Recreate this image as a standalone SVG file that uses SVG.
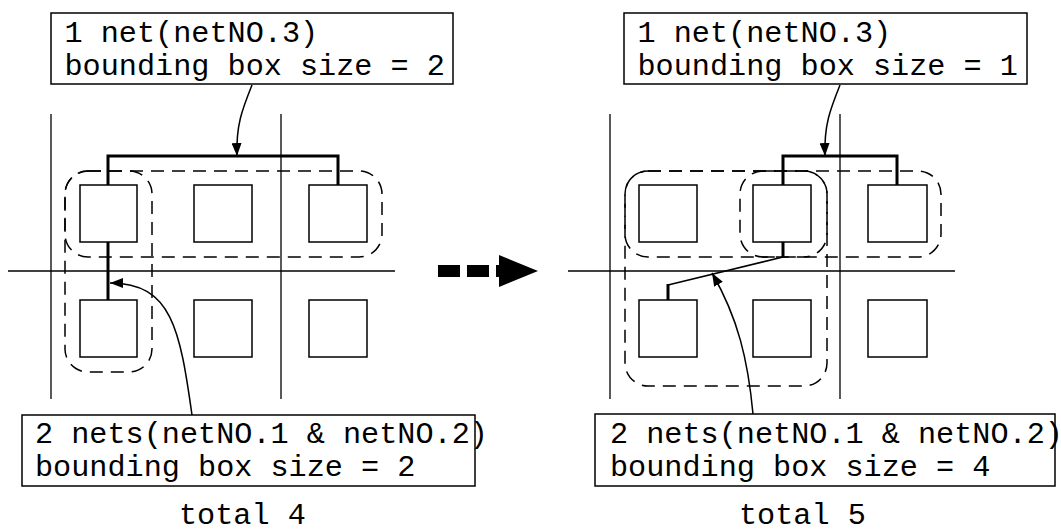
<svg xmlns="http://www.w3.org/2000/svg" width="1061" height="532" viewBox="0 0 1061 532">
  <style>
    .lbl { font-family: "Liberation Mono", "Courier New", monospace; font-size: 30.2px; fill: #000; }
    .box { fill: #fff; stroke: #000; stroke-width: 1.5; }
    .cell { fill: #fff; stroke: #000; stroke-width: 1.5; }
    .grid { stroke: #000; stroke-width: 1.3; fill: none; }
    .bbox { fill: none; stroke: #000; stroke-width: 1.5; stroke-dasharray: 13 8; }
    .wire { fill: none; stroke: #000; stroke-width: 3; }
    .thin { fill: none; stroke: #000; stroke-width: 1.5; }
    .ptr { fill: none; stroke: #000; stroke-width: 1.5; marker-end: url(#head); }
  </style>
  <defs>
    <marker id="head" viewBox="0 0 13 10" refX="13" refY="5" markerWidth="13" markerHeight="10" markerUnits="userSpaceOnUse" orient="auto">
      <path d="M0,0 L13,5 L0,10 z" fill="#000"/>
    </marker>
  </defs>
  <rect width="1061" height="532" fill="#fff"/>

  <!-- placement before: grid, cells, bounding boxes, wiring -->
  <g id="before">
    <g id="before-grid">
      <line class="grid" x1="51" y1="114" x2="51" y2="399"/>
      <line class="grid" x1="281" y1="114" x2="281" y2="399"/>
      <line class="grid" x1="8" y1="271" x2="395" y2="271"/>
    </g>
    <g id="before-cells">
      <rect class="cell" x="80" y="185" width="57" height="57"/>
      <rect class="cell" x="194" y="185" width="58" height="57"/>
      <rect class="cell" x="309" y="185" width="58" height="57"/>
      <rect class="cell" x="80" y="300" width="57" height="57"/>
      <rect class="cell" x="194" y="300" width="58" height="57"/>
      <rect class="cell" x="309" y="300" width="58" height="57"/>
    </g>
    <g id="before-bboxes">
      <rect class="bbox" x="65" y="171" width="317" height="86" rx="23" ry="23"/>
      <rect class="bbox" x="65" y="171" width="87" height="201" rx="23" ry="23"/>
    </g>
    <g id="before-nets">
      <path class="wire" d="M108,185 V156 H338 V185"/>
      <path class="wire" d="M108,242 V300"/>
    </g>
  </g>

  <!-- placement after -->
  <g id="after">
    <g id="after-grid">
      <line class="grid" x1="610" y1="114" x2="610" y2="399"/>
      <line class="grid" x1="840" y1="114" x2="840" y2="399"/>
      <line class="grid" x1="568" y1="271" x2="955" y2="271"/>
    </g>
    <g id="after-cells">
      <rect class="cell" x="639" y="185" width="58" height="57"/>
      <rect class="cell" x="753" y="185" width="58" height="57"/>
      <rect class="cell" x="868" y="185" width="59" height="57"/>
      <rect class="cell" x="639" y="300" width="58" height="57"/>
      <rect class="cell" x="753" y="300" width="58" height="57"/>
      <rect class="cell" x="868" y="300" width="59" height="57"/>
    </g>
    <g id="after-bboxes">
      <rect class="bbox" x="625" y="171" width="316" height="86" rx="23" ry="23"/>
      <rect class="bbox" x="740" y="171" width="87" height="86" rx="23" ry="23"/>
      <rect class="bbox" x="625" y="171" width="202" height="215" rx="23" ry="23"/>
    </g>
    <g id="after-nets">
      <path class="wire" d="M783,185 V156 H897 V185"/>
      <path class="wire" d="M783,242 V257"/>
      <path class="thin" d="M783,257 L668,285"/>
      <path class="wire" d="M668,284 V300"/>
    </g>
  </g>

  <!-- transition arrow -->
  <g id="transition">
    <line x1="438" y1="271" x2="500" y2="271" stroke="#000" stroke-width="12" stroke-dasharray="22 7"/>
    <polygon points="499,255 538,271 499,287" fill="#000"/>
  </g>

  <!-- annotation boxes -->
  <g id="note-before-top">
    <rect class="box" x="51" y="13" width="402" height="71"/>
    <text class="lbl" x="64.5" y="42" xml:space="preserve">1 net(netNO.3)</text>
    <text class="lbl" x="64.5" y="75" xml:space="preserve">bounding box size = 2</text>
  </g>
  <g id="note-before-bottom">
    <rect class="box" x="22" y="415" width="453" height="71"/>
    <text class="lbl" x="35" y="443" xml:space="preserve">2 nets(netNO.1 &amp; netNO.2)</text>
    <text class="lbl" x="35" y="476" xml:space="preserve">bounding box size = 2</text>
  </g>
  <g id="note-after-top">
    <rect class="box" x="624" y="13" width="403" height="71"/>
    <text class="lbl" x="637.5" y="42" xml:space="preserve">1 net(netNO.3)</text>
    <text class="lbl" x="637.5" y="75" xml:space="preserve">bounding box size = 1</text>
  </g>
  <g id="note-after-bottom">
    <rect class="box" x="595" y="414" width="460" height="72"/>
    <text class="lbl" x="610" y="443" xml:space="preserve">2 nets(netNO.1 &amp; netNO.2)</text>
    <text class="lbl" x="610" y="476" xml:space="preserve">bounding box size = 4</text>
  </g>

  <!-- pointers from notes to nets -->
  <g id="connectors">
    <path class="ptr" d="M252,85 C242,110 236,125 237,156"/>
    <path class="ptr" d="M192,415 C180,330 172,283 110,283"/>
    <path class="ptr" d="M840,85 C830,110 824,125 825,156"/>
    <path class="ptr" d="M753,414 C748,360 738,318 712,273"/>
  </g>

  <g id="totals">
    <text class="lbl" x="179" y="524" xml:space="preserve">total 4</text>
    <text class="lbl" x="739" y="524" xml:space="preserve">total 5</text>
  </g>
</svg>
